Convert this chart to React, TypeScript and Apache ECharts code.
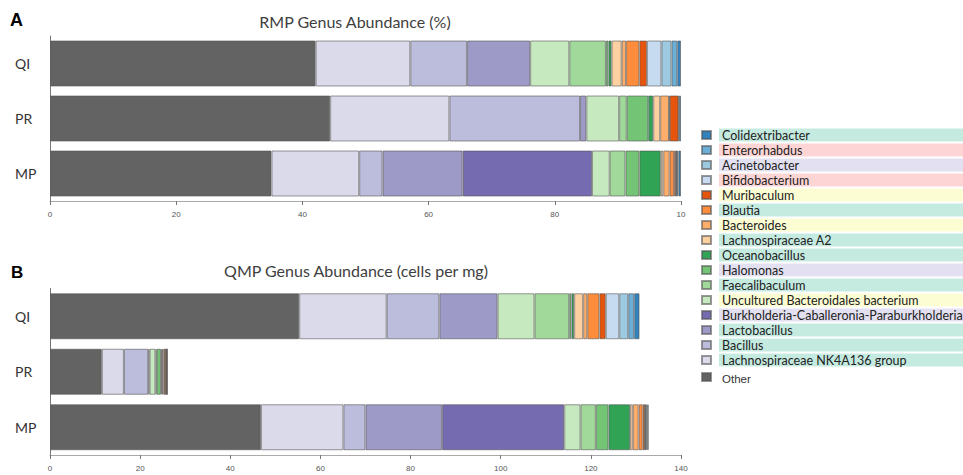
import React, { useEffect, useRef } from "react";
import * as echarts from "echarts";

const categories = ["QI", "PR", "MP"];

// stacking order, left to right
const genera = [
  "Other",
  "Lachnospiraceae NK4A136 group",
  "Bacillus",
  "Lactobacillus",
  "Burkholderia-Caballeronia-Paraburkholderia",
  "Uncultured Bacteroidales bacterium",
  "Faecalibaculum",
  "Halomonas",
  "Oceanobacillus",
  "Lachnospiraceae A2",
  "Bacteroides",
  "Blautia",
  "Muribaculum",
  "Bifidobacterium",
  "Acinetobacter",
  "Enterorhabdus",
  "Colidextribacter",
];

const generaColors = [
  "#636363", "#dadaeb", "#bcbddc", "#9e9ac8", "#756bb1", "#c7e9c0", "#a1d99b", "#74c476",
  "#31a354", "#fdd0a2", "#fdae6b", "#fd8d3c", "#e6550d", "#c6dbef", "#9ecae1", "#6baed6", "#3182bd",
];

// legend order (top to bottom) and highlight band of each entry
const legendOrder = [
  "Colidextribacter", "Enterorhabdus", "Acinetobacter", "Bifidobacterium", "Muribaculum", "Blautia",
  "Bacteroides", "Lachnospiraceae A2", "Oceanobacillus", "Halomonas", "Faecalibaculum",
  "Uncultured Bacteroidales bacterium", "Burkholderia-Caballeronia-Paraburkholderia", "Lactobacillus",
  "Bacillus", "Lachnospiraceae NK4A136 group", "Other",
];
const legendBands = ["t", "p", "l", "p", "y", "t", "y", "t", "t", "l", "t", "y", "l", "t", "t", "t", "o"];

// RMP (%) values, in genera order
const rmpQI = [42.1, 15.0, 9.0, 10.0, 0, 6.2, 5.8, 0.4, 0.5, 1.6, 0.7, 2.1, 1.2, 2.3, 1.6, 0.9, 0.6];
const rmpPR = [44.4, 18.9, 20.7, 1.0, 0, 5.2, 1.2, 3.4, 0.8, 1.1, 1.4, 0.1, 1.4, 0, 0, 0.1, 0.3];
const rmpMP = [35.1, 13.9, 3.7, 12.7, 20.5, 2.8, 2.5, 2.2, 3.4, 0.4, 1.0, 0.7, 0.3, 0.1, 0.1, 0.2, 0.4];

// QMP (cells per mg) values, in genera order
const qmpQI = [55.3, 19.4, 11.7, 12.9, 0, 8.2, 7.7, 0.5, 0.6, 2.0, 0.9, 2.7, 1.4, 3.0, 2.0, 1.3, 1.2];
const qmpPR = [11.5, 4.9, 5.4, 0.3, 0, 1.3, 0.3, 0.9, 0.2, 0.3, 0.4, 0.03, 0.4, 0, 0, 0.03, 0.08];
const qmpMP = [46.8, 18.3, 4.9, 17.0, 27.1, 3.6, 3.4, 2.8, 4.8, 0.6, 1.3, 0.9, 0.5, 0.1, 0.2, 0.3, 0.2];

const rmpTicks = { min: 0, max: 100, interval: 20 };
const qmpTicks = { min: 0, max: 140, interval: 20 };

const FONT = "Lato, 'Open Sans', sans-serif";

function buildSeries(rows: number[][], gridIdx: number, stack: string) {
  return genera.map((g, i) => ({
    name: g,
    type: "bar",
    stack,
    xAxisIndex: gridIdx,
    yAxisIndex: gridIdx,
    barWidth: 46,
    itemStyle: {
      color: generaColors[i],
      borderColor: "rgba(85,85,85,0.6)",
      borderWidth: 1,
    },
    emphasis: { disabled: true },
    data: rows.map((r) => (r[i] > 0 ? r[i] : "-")),
  }));
}

function xAxis(grid: number, t: { min: number; max: number; interval: number }, short100: boolean) {
  return {
    type: "value",
    gridIndex: grid,
    min: t.min,
    max: t.max,
    interval: t.interval,
    splitLine: { show: false },
    axisLine: { show: true, lineStyle: { color: "#aaa", width: 1 } },
    axisTick: { show: true, length: 4, lineStyle: { color: "#777" } },
    axisLabel: {
      color: "#555",
      fontSize: 8,
      fontFamily: "'Liberation Sans', Arial, sans-serif",
      margin: 9,
      formatter: (v: number) => (short100 && v === 100 ? "10" : String(v)),
    },
  };
}

function yAxis(grid: number) {
  return {
    type: "category",
    gridIndex: grid,
    data: categories,
    inverse: true,
    axisLine: { show: true, lineStyle: { color: "#777", width: 1 } },
    axisTick: { show: false },
    axisLabel: {
      color: "#333",
      fontSize: 14,
      fontFamily: FONT,
      align: "left",
      margin: 35,
    },
  };
}

const bandStyle = (bg: string) => ({
  backgroundColor: bg,
  width: 245,
  height: 13,
  lineHeight: 13,
  fontSize: 12.5,
  fontFamily: FONT,
  color: "#222",
  padding: [0, 0, 0, 3],
});

export default function App() {
  const ref = useRef<HTMLDivElement>(null);
  useEffect(() => {
    if (!ref.current) return;
    const chart = echarts.init(ref.current, undefined, { renderer: "svg" });
    const option = {
      animation: false,
      backgroundColor: "#ffffff",
      grid: [
        { left: 50, width: 631, top: 36, height: 165 },
        { left: 50, width: 631, top: 288.5, height: 166.5 },
      ],
      xAxis: [xAxis(0, rmpTicks, true), xAxis(1, qmpTicks, false)],
      yAxis: [yAxis(0), yAxis(1)],
      legend: {
        orient: "vertical",
        left: 701,
        top: 128.5,
        padding: 0,
        itemWidth: 9,
        itemHeight: 8,
        itemGap: 2,
        icon: "rect",
        selectedMode: false,
        data: legendOrder,
        formatter: (name: string) => {
          const idx = legendOrder.indexOf(name);
          const b = legendBands[idx];
          if (b === "o") return `{o|${name}}`;
          return `{s| }{${b}|${name}}`;
        },
        textStyle: {
          rich: {
            s: { width: 3, height: 13, lineHeight: 13, fontSize: 4 },
            t: bandStyle("#c5ebe1"),
            p: bandStyle("#fdd5d5"),
            l: bandStyle("#e3e0f1"),
            y: bandStyle("#fdfdd3"),
            o: {
              fontSize: 11.5,
              fontFamily: "'Liberation Sans', Arial, sans-serif",
              color: "#333",
              height: 13,
              lineHeight: 13,
              padding: [4, 0, 0, 6],
            },
          },
        },
      },
      graphic: [
        {
          type: "text",
          x: 10,
          y: 20,
          style: {
            text: "A",
            fontSize: 18,
            fontWeight: "bold",
            fontFamily: "'Liberation Sans', Arial, sans-serif",
            fill: "#000",
            verticalAlign: "middle",
          },
        },
        {
          type: "text",
          x: 11,
          y: 272,
          style: {
            text: "B",
            fontSize: 17,
            fontWeight: "bold",
            fontFamily: "'Liberation Sans', Arial, sans-serif",
            fill: "#000",
            verticalAlign: "middle",
          },
        },
        {
          type: "text",
          x: 355,
          y: 21,
          style: {
            text: "RMP Genus Abundance (%)",
            fontSize: 16,
            fontFamily: FONT,
            fill: "#404040",
            align: "center",
            verticalAlign: "middle",
          },
        },
        {
          type: "text",
          x: 356,
          y: 270,
          style: {
            text: "QMP Genus Abundance (cells per mg)",
            fontSize: 16,
            fontFamily: FONT,
            fill: "#404040",
            align: "center",
            verticalAlign: "middle",
          },
        },
      ],
      series: [
        ...buildSeries([rmpQI, rmpPR, rmpMP], 0, "rmp"),
        ...buildSeries([qmpQI, qmpPR, qmpMP], 1, "qmp"),
      ],
    };
    chart.setOption(option as any);
    return () => chart.dispose();
  }, []);
  return (
    <div
      ref={ref}
      style={{ position: "fixed", left: 0, top: 0, width: 963, height: 475 }}
    />
  );
}
